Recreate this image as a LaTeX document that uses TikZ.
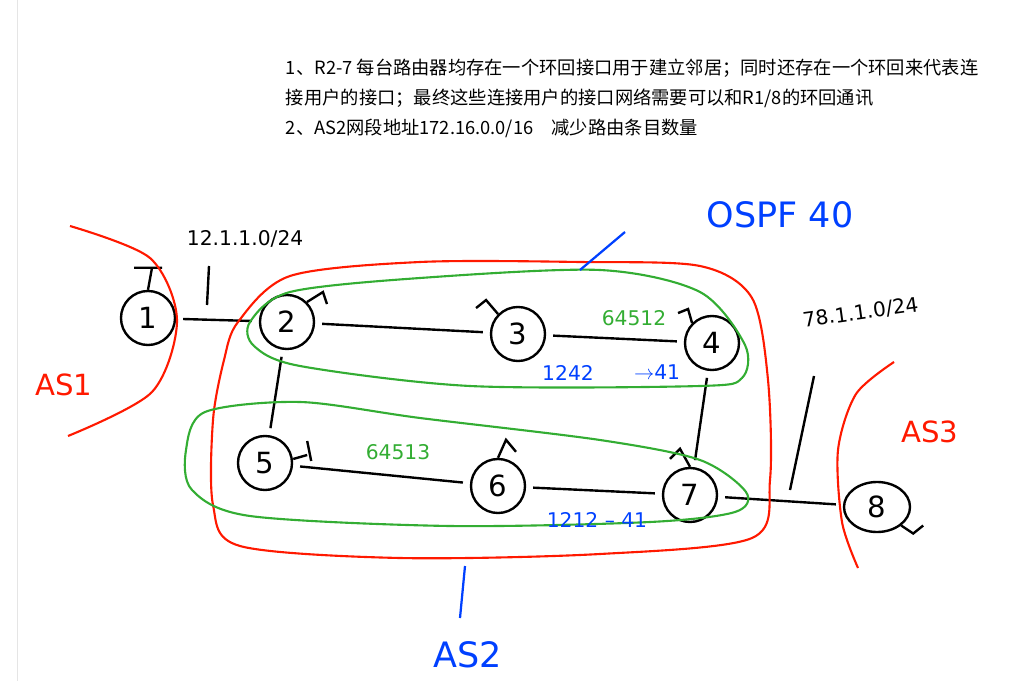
\documentclass[tikz,border=0pt]{standalone}
\usepackage{fontspec}
\setsansfont{DejaVu Sans}
\newfontfamily\cjk{Noto Sans CJK SC}
\usetikzlibrary{shapes.geometric}
\begin{document}
\begin{tikzpicture}[x=0.025cm, y=-0.025cm,
    router/.style={draw, circle, line width=1.7pt, minimum size=1.35cm, font=\huge\sffamily},
    link/.style={line width=1.7pt, shorten >=5pt, shorten <=5pt},
    stub/.style={line width=1.7pt},
    asline/.style={red!80!orange, line width=1.5pt},
    area/.style={green!60!black!80, line width=1.5pt},
    note/.style={blue!75!cyan, line width=1.6pt},
    hand/.style={font=\Large\sffamily},
    task/.style={anchor=west, font=\cjk\fontsize{13}{15}\selectfont}
]
    \useasboundingbox (0,0) rectangle (1036,681);
    \draw[gray!20, line width=0.6pt] (17,0) -- (17,681);

    \node[task] (t1) at (281,68) {1、R2-7 每台路由器均存在一个环回接口用于建立邻居；同时还存在一个环回来代表连};
    \node[task] (t2) at (281,98) {接用户的接口；最终这些连接用户的接口网络需要可以和R1/8的环回通讯};
    \node[task] (t3) at (281,128) {2、AS2网段地址172.16.0.0/16\quad 减少路由条目数量};

    \node[router] (r1) at (148,318) {1};
    \node[router] (r2) at (287,322) {2};
    \node[router] (r3) at (518,334) {3};
    \node[router] (r4) at (712,343) {4};
    \node[router] (r5) at (265,463) {5};
    \node[router] (r6) at (498,486) {6};
    \node[router] (r7) at (690,495) {7};
    \node[router, ellipse, minimum width=1.65cm, minimum height=1.25cm] (r8) at (877,507) {8};

    \draw[link] (r1) -- (r2);
    \draw[link] (r2) -- (r3);
    \draw[link] (r3) -- (r4);
    \draw[link] (r2) -- (r5);
    \draw[link] (r4) -- (r7);
    \draw[link] (r5) -- (r6);
    \draw[link] (r6) -- (r7);
    \draw[link] (r7) -- (r8);

    \draw[stub] (r1.north) -- ++(4,-22) ++(-18,0) -- ++(28,0);
    \draw[stub] (r2.north east) -- ++(16,-10) -- ++(4,12);
    \draw[stub] (r3.north west) -- ++(-12,-14) -- ++(-10,8);
    \draw[stub] (r4.north west) -- ++(-4,-14) -- ++(-10,4);
    \draw[stub] (r5.east) ++(0,-4) -- ++(14,-4) ++(0,-14) -- ++(4,20);
    \draw[stub] (r6.north) -- ++(8,-18) -- ++(10,12);
    \draw[stub] (r7.north) -- ++(-10,-18) -- ++(-10,10);
    \draw[stub] (r8.south east) -- ++(12,8) -- ++(10,-8);

    \coordinate (p1a) at (209,266);
    \coordinate (p1b) at (207,305);
    \draw[stub] (p1a) -- (p1b);
    \node[hand, anchor=south west] (n1) at (182,252) {12.1.1.0/24};
    \coordinate (p2a) at (814,376);
    \coordinate (p2b) at (790,490);
    \draw[stub] (p2a) -- (p2b);
    \node[hand, anchor=south west, rotate=8] (n2) at (800,335) {78.1.1.0/24};

    \draw[asline] plot[smooth] coordinates {(70,226) (150,258) (177,320) (152,392) (68,436)};
    \draw[asline] plot[smooth cycle] coordinates {(238,322) (290,276) (420,262) (580,262) (700,266) (752,298) (768,380) (770,480) (752,538) (600,554) (400,558) (240,546) (213,505) (213,420) (224,360)};
    \draw[asline] plot[smooth] coordinates {(894,362) (856,394) (838,450) (842,522) (858,568)};
    \node[red!80!orange, font=\huge\sffamily] (as1) at (64,385) {AS1};
    \node[red!80!orange, font=\huge\sffamily] (as3) at (930,432) {AS3};

    \draw[area] plot[smooth cycle] coordinates {(250,322) (290,292) (420,278) (600,270) (700,292) (745,345) (742,378) (700,386) (470,386) (300,366) (254,346)};
    \draw[area] plot[smooth cycle] coordinates {(186,450) (205,412) (300,402) (420,418) (600,440) (700,460) (746,492) (735,512) (650,522) (450,526) (250,516) (192,490)};
    \node[green!60!black!80, font=\Large\sffamily] (a1) at (634,318) {64512};
    \node[green!60!black!80, font=\Large\sffamily] (a2) at (398,452) {64513};

    \coordinate (o1) at (580,270);
    \coordinate (o2) at (625,232);
    \draw[note] (o1) -- (o2);
    \node[blue!75!cyan, font=\Huge\sffamily] (ospf) at (780,215) {OSPF 40};
    \coordinate (q1) at (465,566);
    \coordinate (q2) at (460,618);
    \draw[note] (q1) -- (q2);
    \node[blue!75!cyan, font=\Huge\sffamily] (as2) at (468,655) {AS2};
    \node[blue!75!cyan, font=\Large\sffamily] (b1) at (568,373) {1242};
    \node[blue!75!cyan, font=\Large\sffamily] (b2) at (657,372) {$\to$41};
    \node[blue!75!cyan, font=\Large\sffamily] (b3) at (597,520) {1212 -- 41};
\end{tikzpicture}
\end{document}
